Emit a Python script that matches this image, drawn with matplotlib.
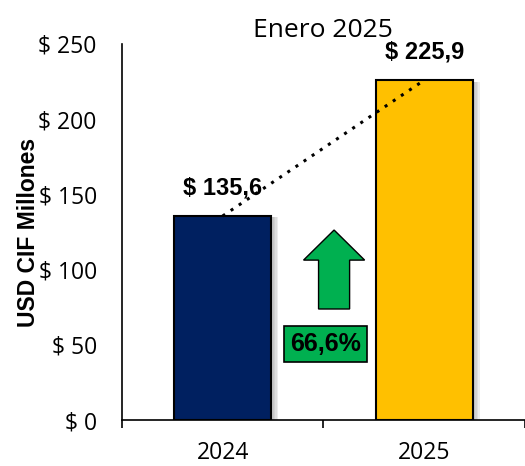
import matplotlib.pyplot as plt
import matplotlib.patheffects as pe
from matplotlib.patches import FancyArrow

anios = ['2024', '2025']
valores = [135.6, 225.9]
etiquetas = ['$ 135,6', '$ 225,9']
colores = ['#002060', '#FFC000']
variacion = '66,6%'
yticks = [0, 50, 100, 150, 200, 250]

plt.rcParams['font.family'] = ['Open Sans', 'DejaVu Sans']
negrita = ['Liberation Sans', 'DejaVu Sans']

fig = plt.figure(figsize=(5.25, 4.66), dpi=100)
ax = fig.add_axes([0.232, 0.0987, 0.768, 0.807])

x = list(range(len(anios)))
# sombra suave a la derecha de las barras
sombra = [pe.SimplePatchShadow(offset=(d, -1), shadow_rgbFace='#999999', alpha=0.18)
          for d in (5, 4, 3, 2)] + [pe.Normal()]
barras = ax.bar(x, valores, width=0.48, color=colores, edgecolor='black', linewidth=1.5, zorder=2)
for b in barras:
    b.set_path_effects(sombra)

for xi, v, t in zip(x, valores, etiquetas):
    ax.annotate(t, (xi, v), xytext=(0, 20), textcoords='offset points',
                ha='center', va='center', fontsize=17, fontweight='bold',
                family=negrita, zorder=3)

# linea de tendencia punteada
ax.plot(x, valores, color='black', linestyle=(0, (1, 2.2)), linewidth=2.2, zorder=4)

# flecha de crecimiento
ax.add_patch(FancyArrow(0.553, 73.8, 0, 52.5, width=0.154, head_width=0.303,
                        head_length=20, length_includes_head=True,
                        facecolor='#00B050', edgecolor='black', linewidth=1, zorder=3))
ax.text(0.511, 50.5, variacion, ha='center', va='center', fontsize=18, fontweight='bold',
        family=negrita,
        bbox=dict(boxstyle='square,pad=0.25', facecolor='#00B050', edgecolor='black', linewidth=1.2),
        zorder=3)

ax.set_xlim(-0.5, 1.5)
ax.set_ylim(0, 250)
ax.set_yticks(yticks)
ax.set_yticklabels(['$ ' + str(v) for v in yticks], fontsize=16.5)
ax.tick_params(axis='y', length=0, pad=18)

ax.set_xticks([-0.5, 0.5, 1.5])
ax.set_xticklabels([])
ax.tick_params(axis='x', length=6, width=1.2)
for xi, a in zip(x, anios):
    ax.text(xi, -22, a, ha='center', va='center', fontsize=16.5)

ax.spines['top'].set_visible(False)
ax.spines['right'].set_visible(False)
ax.spines['left'].set_linewidth(1.2)
ax.spines['bottom'].set_linewidth(1.2)

ax.set_ylabel('USD CIF Millones', fontsize=16.5, fontweight='bold', family=negrita)
ax.yaxis.set_label_coords(-0.203, 0.5)
ax.set_title('Enero 2025', fontsize=19, pad=5)

fig.savefig('out.png', dpi=100)
